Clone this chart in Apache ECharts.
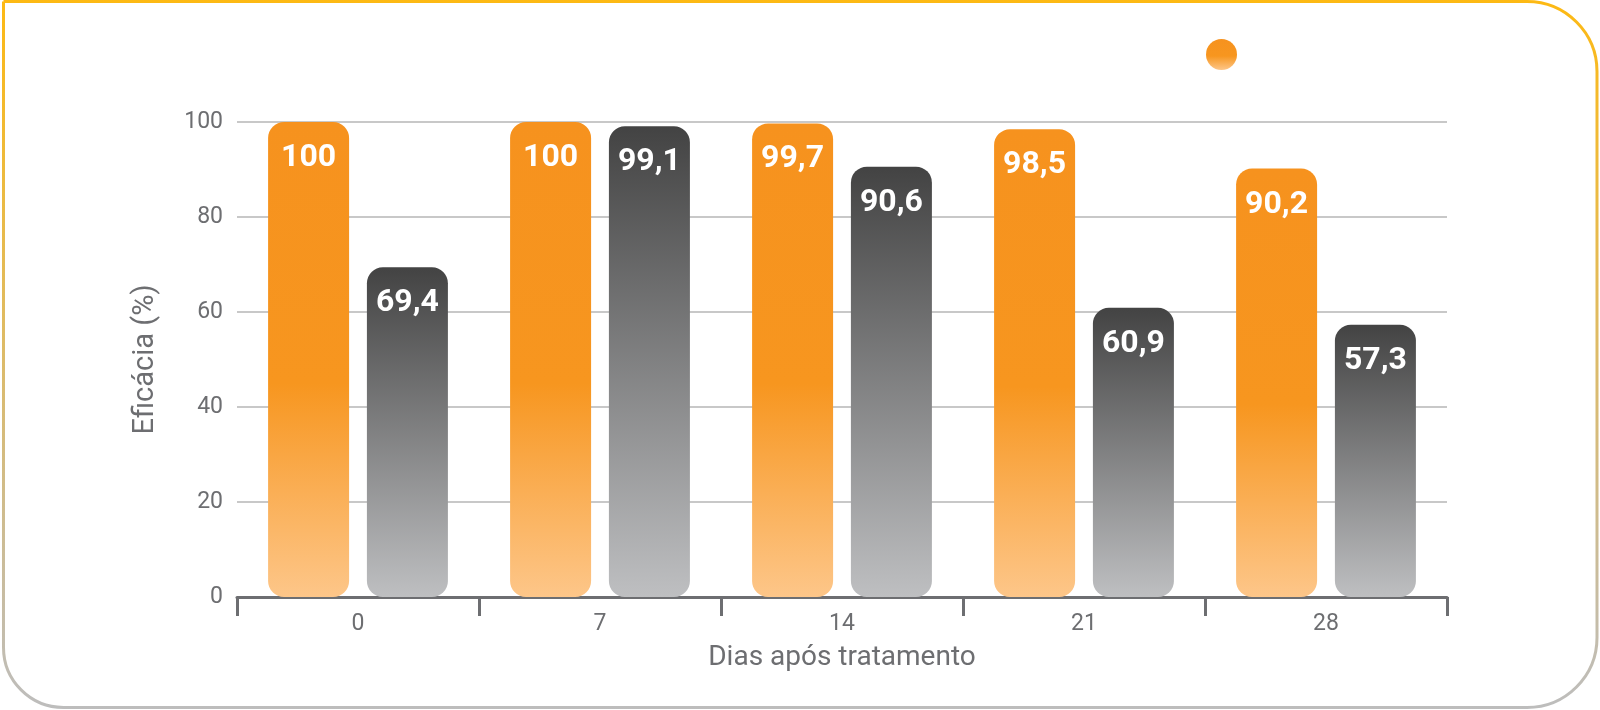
<!DOCTYPE html>
<html>
<head>
<meta charset="utf-8">
<title>Eficácia</title>
<script src="https://cdn.jsdelivr.net/npm/echarts@6/dist/echarts.min.js"></script>
<style>
  html, body { margin: 0; padding: 0; background: #fff; }
  #chart { width: 1600px; height: 710px; }
</style>
</head>
<body>
<div id="chart"></div>
<script>
// dados
const dias = ['0', '7', '14', '21', '28']
const serieLaranja = [100, 100, 99.7, 98.5, 90.2]
const serieCinza = [69.4, 99.1, 90.6, 60.9, 57.3]
const nomes = ['Tratamento', 'Referência']

const FONT = "'Roboto', 'Liberation Sans', sans-serif"
const TEXT_GRAY = '#6D6E71'

const chart = echarts.init(document.getElementById('chart'))

// gradientes verticais por barra
const laranja = new echarts.graphic.LinearGradient(0, 0, 0, 1, [
  { offset: 0, color: '#F6921E' },
  { offset: 0.55, color: '#F7961F' },
  { offset: 1, color: '#FDC689' }
])
const cinza = new echarts.graphic.LinearGradient(0, 0, 0, 1, [
  { offset: 0, color: '#434343' },
  { offset: 1, color: '#BEBFC1' }
])

// rótulo com vírgula decimal
const formatar = (p) => String(p.value).replace('.', ',')

const label = {
  show: true,
  position: 'insideTop',
  distance: 20,
  color: '#fff',
  fontFamily: FONT,
  fontWeight: 'bold',
  fontSize: 32,
  formatter: formatar
}

const option = {
  animation: false,
  graphic: [{
    type: 'rect',
    silent: true,
    z: -10,
    shape: { x: 3.5, y: 1.5, width: 1593.5, height: 706, r: [0, 70, 70, 60] },
    style: {
      fill: 'none',
      lineWidth: 3,
      stroke: new echarts.graphic.LinearGradient(0, 0, 0, 1, [
        { offset: 0, color: '#FDB913' },
        { offset: 1, color: '#BDBDBD' }
      ])
    }
  }],
  legend: {
    data: [nomes[0]],
    left: 1201,
    top: 34,
    icon: 'circle',
    itemWidth: 31,
    itemHeight: 31,
    formatter: () => '',
    selectedMode: false
  },
  grid: {
    left: 237,
    right: 153,
    top: 122,
    bottom: 113
  },
  xAxis: {
    type: 'category',
    data: dias,
    name: 'Dias após tratamento',
    nameLocation: 'middle',
    nameGap: 47,
    nameTextStyle: { color: TEXT_GRAY, fontFamily: FONT, fontSize: 28 },
    axisLine: { lineStyle: { color: TEXT_GRAY, width: 3 } },
    axisTick: { show: true, length: 19, lineStyle: { color: TEXT_GRAY, width: 3 } },
    axisLabel: { color: TEXT_GRAY, fontFamily: FONT, fontSize: 23, margin: 16 }
  },
  yAxis: {
    type: 'value',
    min: 0,
    max: 100,
    interval: 20,
    name: 'Eficácia (%)',
    nameLocation: 'middle',
    nameGap: 77,
    nameTextStyle: { color: TEXT_GRAY, fontFamily: FONT, fontSize: 29 },
    axisLine: { show: false },
    axisTick: { show: false },
    axisLabel: { color: TEXT_GRAY, fontFamily: FONT, fontSize: 23, margin: 14 },
    splitLine: { lineStyle: { color: '#C8C8C8', width: 2 } }
  },
  series: [
    {
      name: nomes[0],
      type: 'bar',
      data: serieLaranja,
      barWidth: 81,
      barGap: '22%',
      itemStyle: { color: laranja, borderRadius: 16 },
      label: label
    },
    {
      name: nomes[1],
      type: 'bar',
      data: serieCinza,
      barWidth: 81,
      barGap: '22%',
      itemStyle: { color: cinza, borderRadius: 16 },
      label: label
    }
  ]
}

chart.setOption(option)
</script>
</body>
</html>
